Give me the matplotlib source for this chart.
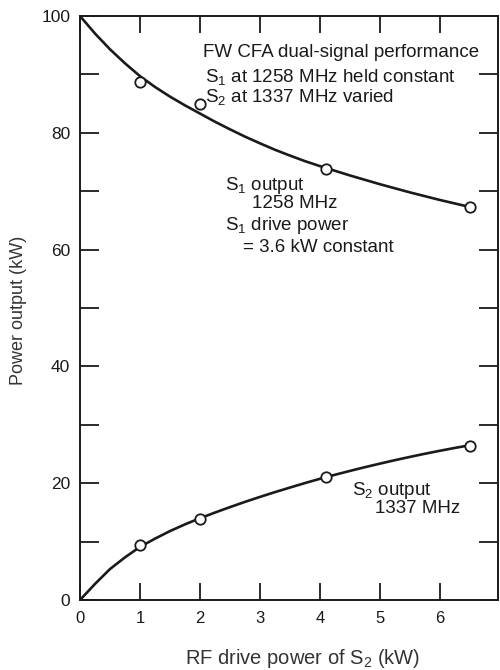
import matplotlib
matplotlib.use("Agg")
import matplotlib.pyplot as plt
from matplotlib.ticker import MultipleLocator, FixedLocator

plt.rcParams["font.family"] = ["Liberation Sans", "DejaVu Sans"]
plt.rcParams["mathtext.fontset"] = "custom"
plt.rcParams["mathtext.rm"] = "Liberation Sans"
plt.rcParams["mathtext.it"] = "Liberation Sans:italic"

# Fitted curves (drive power of S2 in kW -> output power in kW)
curve_x = [0, 0.25, 0.5, 0.75, 1, 1.25, 1.5, 1.75, 2, 2.25, 2.5, 2.75, 3, 3.25,
           3.5, 3.75, 4, 4.25, 4.5, 4.75, 5, 5.25, 5.5, 5.75, 6, 6.25, 6.5]
s1_curve = [100, 97.0, 94.3, 91.9, 89.7, 87.85, 86.2, 84.7, 83.3, 81.9, 80.6,
            79.35, 78.2, 77.1, 76.1, 75.15, 74.3, 73.5, 72.7, 71.95, 71.2, 70.5,
            69.8, 69.15, 68.5, 67.9, 67.3]
s2_curve = [0, 2.75, 5.3, 7.3, 9.1, 10.5, 11.8, 12.95, 14.0, 14.97, 15.9, 16.8,
            17.65, 18.47, 19.25, 20.02, 20.75, 21.44, 22.1, 22.74, 23.35, 23.94,
            24.5, 25.04, 25.55, 26.04, 26.5]

# Measured points
meas_x = [1, 2, 4.1, 6.5]
s1_meas = [88.7, 84.9, 73.8, 67.3]
s2_meas = [9.4, 13.9, 21.1, 26.4]

x_ticks = [0, 1, 2, 3, 4, 5, 6]
y_major = [0, 20, 40, 60, 80, 100]

ink = "#1a1a1a"

fig = plt.figure(figsize=(5.0, 6.7), dpi=100)
ax = fig.add_axes([80 / 500, 1 - 600 / 670, 418 / 500, 584 / 670])

for yc in (s1_curve, s2_curve):
    ax.plot(curve_x, yc, color=ink, lw=1.9, solid_capstyle="round",
            solid_joinstyle="round", zorder=2)
for ym in (s1_meas, s2_meas):
    ax.plot(meas_x, ym, linestyle="none", marker="o", ms=7.5, mfc="white",
            mec=ink, mew=1.3, zorder=3)

ax.set_xlim(0, 6.97)
ax.set_ylim(0, 100)
ax.xaxis.set_major_locator(FixedLocator(x_ticks))
ax.yaxis.set_major_locator(FixedLocator(y_major))
ax.yaxis.set_minor_locator(MultipleLocator(10))

for s in ax.spines.values():
    s.set_linewidth(1.4)
    s.set_color(ink)

ax.tick_params(axis="y", which="both", direction="in", length=14, width=1.3,
               left=True, right=True, colors=ink, labelsize=12.5, pad=7)
ax.tick_params(axis="x", which="major", direction="in", length=12, width=1.3,
               bottom=True, top=True, colors=ink, labelsize=12, pad=8)

fig.text(19 / 500, 1 - 310 / 670, "Power output (kW)", rotation=90,
         ha="center", va="center", fontsize=13, color="#333333")
fig.text(303 / 500, 1 - 664 / 670, r"RF drive power of S$_\mathregular{2}$ (kW)",
         ha="center", va="baseline", fontsize=14.5, color="#333333")

fs = 13.5
ax.text(2.05, 93.0, "FW CFA dual-signal performance", fontsize=fs, color=ink, va="baseline")
ax.text(2.08, 88.7, r"S$_\mathregular{1}$ at 1258 MHz held constant", fontsize=fs, color=ink, va="baseline")
ax.text(2.08, 85.3, r"S$_\mathregular{2}$ at 1337 MHz varied", fontsize=fs, color=ink, va="baseline")

ax.text(2.42, 70.2, r"S$_\mathregular{1}$ output", fontsize=fs, color=ink, va="baseline")
ax.text(2.87, 67.1, "1258 MHz", fontsize=fs, color=ink, va="baseline")
ax.text(2.42, 63.4, r"S$_\mathregular{1}$ drive power", fontsize=fs, color=ink, va="baseline")
ax.text(2.72, 59.6, "= 3.6 kW constant", fontsize=fs, color=ink, va="baseline")

ax.text(4.53, 18.0, r"S$_\mathregular{2}$ output", fontsize=fs, color=ink, va="baseline")
ax.text(4.92, 14.9, "1337 MHz", fontsize=fs, color=ink, va="baseline")

fig.savefig("out.png", dpi=100, facecolor="white")
